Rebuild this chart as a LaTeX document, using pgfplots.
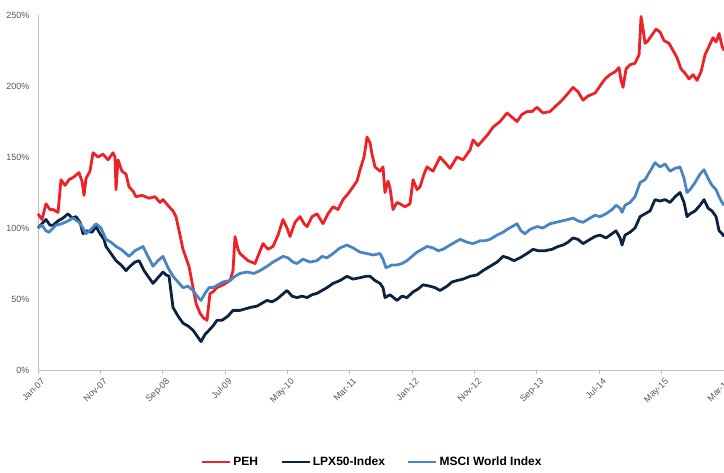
\documentclass[border=0pt]{standalone}
\usepackage{pgfplots}
\pgfplotsset{compat=1.18}
\usepackage{fontspec}
\setmainfont{Liberation Sans}
\definecolor{pehred}{HTML}{EC2227}
\definecolor{lpxnavy}{HTML}{0B2240}
\definecolor{msciblue}{HTML}{4A85C3}
\definecolor{axgray}{HTML}{BFBFBF}
\definecolor{labgray}{HTML}{555555}
\begin{document}
\begin{tikzpicture}
\begin{axis}[
  at={(0pt,0pt)}, anchor=south west,
  scale only axis, width=686pt, height=355pt,
  xmin=0, xmax=110, ymin=0, ymax=250,
  axis x line*=bottom, axis y line*=left,
  axis line style={draw=axgray, line width=0.9pt},
  xtick={0,10,...,110},
  xticklabels={Jan-07,Nov-07,Sep-08,Jul-09,May-10,Mar-11,Jan-12,Nov-12,Sep-13,Jul-14,May-15,Mar-16},
  ytick={0,50,...,250},
  yticklabels={0\%,50\%,100\%,150\%,200\%,250\%},
  x tick label style={rotate=45, anchor=north east, font=\fontsize{9}{10}\selectfont, text=labgray, xshift=3pt, yshift=-1pt},
  y tick label style={font=\fontsize{9}{10}\selectfont, text=labgray, xshift=-1pt},
  major tick length=4pt,
  xtick style={draw=axgray, line width=0.9pt},
  tick align=outside,
  ytick style={draw=none},
  clip=false,
  legend columns=3,
  legend style={at={(0.487,-0.259)}, anchor=center, draw=none, fill=none,
    font=\bfseries\fontsize{12}{13}\selectfont,
    /tikz/every even column/.append style={column sep=20pt}},
  legend image code/.code={\draw[#1, line width=2.8pt] (0pt,0pt) -- (28pt,0pt);},
  line join=round,
]
\addplot[pehred, line width=2.8pt] coordinates {
(0.0,110)(0.64,106)(1.28,117)(1.92,113)(2.41,113)(3.21,111)(3.69,134)(4.33,130)(4.97,134)(5.77,136)
(6.57,139)(7.06,133)(7.38,123)(7.70,135)(8.34,140)(8.82,153)(9.62,150)(10.42,152)(11.23,148)(12.03,153)
(12.35,150)(12.51,127)(12.83,148)(13.47,140)(14.11,138)(14.59,129)(15.23,126)(15.72,122)(16.68,123)(17.80,121)
(18.76,122)(19.56,118)(20.04,120)(21.01,115)(21.65,112)(22.13,108)(22.77,95)(23.25,85)(24.21,73)(24.86,58)
(25.34,47)(25.98,40)(26.46,37)(27.10,35)(27.58,54)(28.06,55)(28.70,58)(29.67,60)(30.79,63)(31.27,70)
(31.59,94)(32.07,85)(32.39,82)(33.68,77)(34.80,75)(36.08,89)(36.88,85)(37.68,87)(38.49,95)(39.29,106)
(39.93,100)(40.41,94)(41.21,104)(42.01,108)(42.66,103)(43.14,101)(43.94,108)(44.74,110)(45.70,103)(46.50,110)
(47.31,115)(48.11,113)(48.91,120)(49.71,124)(50.51,129)(51.15,133)(51.64,141)(52.28,150)(52.76,164)(53.24,160)
(53.56,152)(54.04,143)(54.84,140)(55.32,143)(55.64,125)(56.13,133)(56.45,128)(56.93,113)(57.57,118)(58.05,117)
(58.85,115)(59.65,117)(60.14,134)(60.78,127)(61.26,129)(61.90,138)(62.38,143)(63.34,140)(64.47,150)(65.27,146)
(66.07,142)(67.19,150)(68.15,148)(69.28,155)(69.76,162)(70.56,158)(71.36,162)(72.16,166)(72.96,171)(74.09,175)
(75.21,181)(76.01,178)(76.81,175)(77.61,180)(78.41,182)(79.22,182)(80.02,185)(80.98,181)(82.10,182)(83.06,186)
(84.03,190)(84.83,194)(85.79,199)(86.59,196)(87.40,190)(88.20,193)(89.32,195)(90.12,200)(90.92,205)(91.73,208)
(92.53,210)(93.17,213)(93.49,204)(93.81,199)(94.29,212)(94.93,215)(95.73,216)(96.38,222)(96.70,249)(97.02,240)
(97.34,230)(97.82,232)(98.46,236)(99.10,240)(99.74,238)(100.38,232)(101.19,230)(101.83,225)(102.47,220)(103.11,212)
(103.75,209)(104.39,205)(105.04,208)(105.68,204)(106.32,210)(106.96,222)(107.60,228)(108.24,234)(108.73,231)(109.21,237)
(109.69,228)(110.0,225)
};
\addlegendentry{PEH}
\addplot[lpxnavy, line width=2.8pt] coordinates {
(0,100)(0.64,103)(1.28,106)(1.92,102)(2.41,102)(3.21,105)(4.01,107)(4.81,110)(5.45,107)(6.09,108)
(6.74,104)(7.22,96)(7.86,98)(8.66,97)(9.30,101)(9.94,96)(10.58,92)(10.90,87)(11.71,82)(12.51,77)
(13.31,74)(14.11,70)(14.75,73)(15.55,76)(16.20,77)(17.00,70)(17.80,65)(18.44,61)(19.24,65)(20.04,69)
(20.53,67)(21.01,66)(21.33,55)(21.65,44)(22.45,38)(23.25,33)(24.05,31)(24.86,28)(25.50,24)(26.14,20)
(26.78,25)(27.42,28)(28.06,31)(28.70,35)(29.51,35)(30.47,38)(31.27,42)(32.39,42)(33.19,43)(34.00,44)
(35.12,45)(35.92,47)(36.72,49)(37.52,48)(38.33,50)(39.13,53)(39.93,56)(40.73,52)(41.53,51)(42.34,52)
(43.14,51)(43.94,53)(44.74,54)(45.54,56)(46.34,58)(47.31,61)(48.43,63)(49.55,66)(50.51,64)(51.64,65)
(52.60,66)(53.24,66)(54.04,63)(54.84,61)(55.32,58)(55.64,51)(56.45,53)(57.57,49)(58.37,52)(59.17,51)
(60.14,55)(60.94,57)(61.74,60)(62.86,59)(63.66,58)(64.47,56)(65.59,59)(66.39,62)(67.19,63)(68.15,64)
(69.28,66)(70.40,67)(71.36,70)(72.48,73)(73.61,76)(74.57,80)(75.37,79)(76.33,77)(77.29,79)(78.41,82)
(79.38,85)(80.18,84)(81.30,84)(82.43,85)(83.39,87)(84.19,88)(84.99,90)(85.79,93)(86.59,92)(87.40,89)
(88.52,92)(89.32,94)(90.12,95)(91.08,93)(92.05,96)(92.69,98)(93.33,93)(93.65,88)(94.13,95)(94.93,97)
(95.73,100)(96.54,108)(97.34,110)(98.14,112)(98.94,120)(99.74,119)(100.55,120)(101.35,118)(102.15,122)(102.95,125)
(103.59,118)(104.07,108)(104.55,110)(105.36,112)(106.16,116)(106.80,120)(107.44,114)(108.08,112)(108.73,108)(109.21,98)
(109.69,96)(110,94)
};
\addlegendentry{LPX50-Index}
\addplot[msciblue, line width=2.8pt] coordinates {
(0,100)(0.64,102)(1.28,98)(1.76,97)(2.41,100)(2.89,102)(3.85,103)(4.81,105)(5.61,107)(6.57,104)
(7.22,100)(7.70,96)(8.50,99)(9.30,103)(10.10,100)(10.90,92)(11.71,90)(12.51,87)(13.31,85)(14.11,82)
(14.59,80)(15.55,84)(16.84,87)(17.64,80)(18.44,73)(19.24,77)(20.04,80)(20.85,72)(21.65,66)(22.45,62)
(23.25,58)(24.05,59)(24.86,56)(25.50,52)(26.14,49)(26.78,54)(27.42,58)(28.06,58)(28.86,60)(29.67,62)
(30.79,63)(31.59,66)(32.39,68)(33.52,69)(34.64,68)(35.60,70)(36.72,73)(37.68,76)(38.49,78)(39.29,80)
(40.09,79)(40.89,76)(41.53,75)(42.50,78)(43.62,76)(44.74,77)(45.54,80)(46.34,79)(47.31,82)(48.43,86)
(49.55,88)(50.51,86)(51.64,83)(52.76,82)(53.72,81)(54.84,82)(55.32,78)(55.80,72)(56.77,74)(57.57,74)
(58.37,75)(59.17,77)(59.97,80)(60.78,83)(61.58,85)(62.38,87)(63.34,86)(64.15,84)(64.95,85)(66.07,88)
(66.87,90)(67.68,92)(68.80,90)(69.76,89)(70.88,91)(71.68,91)(72.48,92)(73.61,95)(74.57,97)(75.21,99)
(76.01,101)(76.81,103)(77.45,98)(78.09,96)(78.90,99)(80.02,101)(80.98,100)(82.10,103)(83.06,104)(84.03,105)
(84.99,106)(85.79,107)(86.59,105)(87.40,104)(88.52,107)(89.32,109)(90.12,108)(91.08,110)(92.05,113)(92.69,116)
(93.33,114)(93.65,111)(94.13,116)(94.93,118)(95.73,122)(96.54,132)(97.34,134)(98.14,140)(98.94,146)(99.74,143)
(100.55,145)(101.35,140)(102.15,142)(102.95,143)(103.59,135)(104.07,125)(104.55,127)(105.36,132)(106.16,138)(106.80,141)
(107.44,135)(108.08,130)(108.73,127)(109.21,122)(109.69,118)(110,116)
};
\addlegendentry{MSCI World Index}
\end{axis}
\pgfresetboundingbox
\useasboundingbox (-38pt,-102pt) rectangle (686pt,370pt);
\end{tikzpicture}
\end{document}
